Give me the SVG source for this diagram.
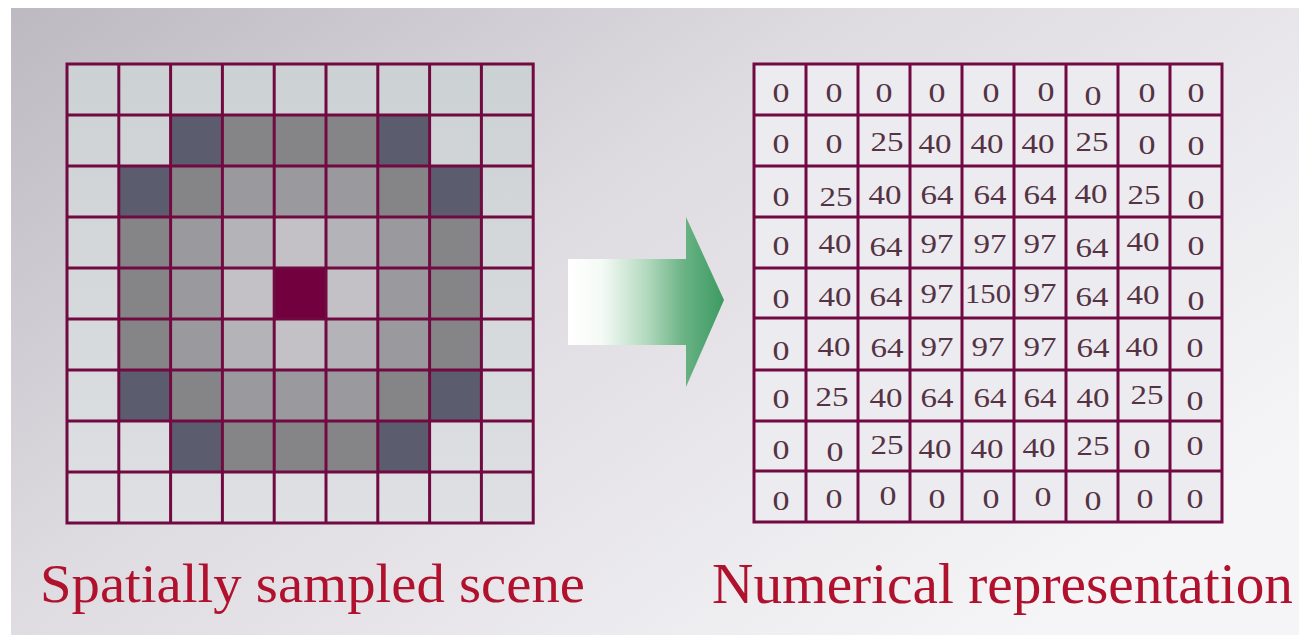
<svg xmlns="http://www.w3.org/2000/svg" width="1299" height="635" viewBox="0 0 1299 635">
<defs>
<linearGradient id="bg" x1="0" y1="0" x2="1" y2="0.7">
<stop offset="0" stop-color="#bdb9c1"/>
<stop offset="0.45" stop-color="#dedbe1"/>
<stop offset="1" stop-color="#f5f5f7"/>
</linearGradient>
<linearGradient id="lightcells" x1="0" y1="0" x2="0" y2="1">
<stop offset="0" stop-color="#ccd1d3"/>
<stop offset="1" stop-color="#dee0e3"/>
</linearGradient>
<linearGradient id="arrowg" gradientUnits="userSpaceOnUse" x1="568" y1="0" x2="724" y2="0">
<stop offset="0" stop-color="#ffffff"/>
<stop offset="0.22" stop-color="#f4faf5"/>
<stop offset="0.5" stop-color="#b4dabf"/>
<stop offset="0.75" stop-color="#68b283"/>
<stop offset="1" stop-color="#3d9a62"/>
</linearGradient>
<style>
.grid{fill:none;stroke:#720a42;stroke-width:3;stroke-linecap:square}
.D{fill:#5b5d6f}.G{fill:#858587}.M{fill:#9a999e}.A{fill:#b4b3b8}.B{fill:#c3c1c6}.X{fill:#72003e}
.n{font-size:28px;fill:#553344;text-anchor:middle}
.t{fill:#b0122e}
</style>
</defs>
<rect x="11" y="8" width="1288" height="627" fill="url(#bg)"/>

<g id="spatial-grid">
<rect x="67" y="64" width="466" height="459" fill="url(#lightcells)"/>
<rect class="D" x="170.6" y="115" width="51.8" height="51"/>
<rect class="G" x="222.4" y="115" width="51.8" height="51"/>
<rect class="G" x="274.2" y="115" width="51.8" height="51"/>
<rect class="G" x="326" y="115" width="51.8" height="51"/>
<rect class="D" x="377.8" y="115" width="51.8" height="51"/>
<rect class="D" x="118.8" y="166" width="51.8" height="51"/>
<rect class="G" x="170.6" y="166" width="51.8" height="51"/>
<rect class="M" x="222.4" y="166" width="51.8" height="51"/>
<rect class="M" x="274.2" y="166" width="51.8" height="51"/>
<rect class="M" x="326" y="166" width="51.8" height="51"/>
<rect class="G" x="377.8" y="166" width="51.8" height="51"/>
<rect class="D" x="429.6" y="166" width="51.8" height="51"/>
<rect class="G" x="118.8" y="217" width="51.8" height="51"/>
<rect class="M" x="170.6" y="217" width="51.8" height="51"/>
<rect class="A" x="222.4" y="217" width="51.8" height="51"/>
<rect class="B" x="274.2" y="217" width="51.8" height="51"/>
<rect class="A" x="326" y="217" width="51.8" height="51"/>
<rect class="M" x="377.8" y="217" width="51.8" height="51"/>
<rect class="G" x="429.6" y="217" width="51.8" height="51"/>
<rect class="G" x="118.8" y="268" width="51.8" height="51"/>
<rect class="M" x="170.6" y="268" width="51.8" height="51"/>
<rect class="B" x="222.4" y="268" width="51.8" height="51"/>
<rect class="X" x="274.2" y="268" width="51.8" height="51"/>
<rect class="B" x="326" y="268" width="51.8" height="51"/>
<rect class="M" x="377.8" y="268" width="51.8" height="51"/>
<rect class="G" x="429.6" y="268" width="51.8" height="51"/>
<rect class="G" x="118.8" y="319" width="51.8" height="51"/>
<rect class="M" x="170.6" y="319" width="51.8" height="51"/>
<rect class="A" x="222.4" y="319" width="51.8" height="51"/>
<rect class="B" x="274.2" y="319" width="51.8" height="51"/>
<rect class="A" x="326" y="319" width="51.8" height="51"/>
<rect class="M" x="377.8" y="319" width="51.8" height="51"/>
<rect class="G" x="429.6" y="319" width="51.8" height="51"/>
<rect class="D" x="118.8" y="370" width="51.8" height="51"/>
<rect class="G" x="170.6" y="370" width="51.8" height="51"/>
<rect class="M" x="222.4" y="370" width="51.8" height="51"/>
<rect class="M" x="274.2" y="370" width="51.8" height="51"/>
<rect class="M" x="326" y="370" width="51.8" height="51"/>
<rect class="G" x="377.8" y="370" width="51.8" height="51"/>
<rect class="D" x="429.6" y="370" width="51.8" height="51"/>
<rect class="D" x="170.6" y="421" width="51.8" height="51"/>
<rect class="G" x="222.4" y="421" width="51.8" height="51"/>
<rect class="G" x="274.2" y="421" width="51.8" height="51"/>
<rect class="G" x="326" y="421" width="51.8" height="51"/>
<rect class="D" x="377.8" y="421" width="51.8" height="51"/>
<path class="grid" d="M67,64H533.2V523H67Z M118.8,64V523 M170.6,64V523 M222.4,64V523 M274.2,64V523 M326,64V523 M377.8,64V523 M429.6,64V523 M481.4,64V523 M67,115H533.2 M67,166H533.2 M67,217H533.2 M67,268H533.2 M67,319H533.2 M67,370H533.2 M67,421H533.2 M67,472H533.2"/>
</g>

<g id="connectors">
<path d="M568,259H686V217L724,300L686,387V345H568Z" fill="url(#arrowg)"/>
</g>

<g id="numeric-grid">
<rect x="754" y="64" width="468" height="458" fill="#ecebf0"/>
<path class="grid" d="M754,64H1222V522H754Z M806,64V522 M858,64V522 M910,64V522 M962,64V522 M1014,64V522 M1066,64V522 M1118,64V522 M1170,64V522 M754,115H1222 M754,166H1222 M754,217H1222 M754,268H1222 M754,318H1222 M754,370H1222 M754,421H1222 M754,471H1222"/>
<g font-family="Liberation Serif, Times New Roman, DejaVu Serif, serif" lengthAdjust="spacingAndGlyphs">
<text class="n" x="781" y="102" textLength="17" lengthAdjust="spacingAndGlyphs">0</text>
<text class="n" x="834" y="102" textLength="17" lengthAdjust="spacingAndGlyphs">0</text>
<text class="n" x="884" y="102" textLength="17" lengthAdjust="spacingAndGlyphs">0</text>
<text class="n" x="937" y="102" textLength="17" lengthAdjust="spacingAndGlyphs">0</text>
<text class="n" x="991" y="102" textLength="17" lengthAdjust="spacingAndGlyphs">0</text>
<text class="n" x="1046" y="101" textLength="17" lengthAdjust="spacingAndGlyphs">0</text>
<text class="n" x="1093" y="105" textLength="17" lengthAdjust="spacingAndGlyphs">0</text>
<text class="n" x="1147" y="102" textLength="17" lengthAdjust="spacingAndGlyphs">0</text>
<text class="n" x="1196" y="102" textLength="17" lengthAdjust="spacingAndGlyphs">0</text>
<text class="n" x="781" y="153" textLength="17" lengthAdjust="spacingAndGlyphs">0</text>
<text class="n" x="834" y="153" textLength="17" lengthAdjust="spacingAndGlyphs">0</text>
<text class="n" x="887" y="151" textLength="33" lengthAdjust="spacingAndGlyphs">25</text>
<text class="n" x="935" y="153" textLength="33" lengthAdjust="spacingAndGlyphs">40</text>
<text class="n" x="987" y="153" textLength="33" lengthAdjust="spacingAndGlyphs">40</text>
<text class="n" x="1038" y="153" textLength="33" lengthAdjust="spacingAndGlyphs">40</text>
<text class="n" x="1092" y="151" textLength="33" lengthAdjust="spacingAndGlyphs">25</text>
<text class="n" x="1147" y="154" textLength="17" lengthAdjust="spacingAndGlyphs">0</text>
<text class="n" x="1196" y="155" textLength="17" lengthAdjust="spacingAndGlyphs">0</text>
<text class="n" x="781" y="206" textLength="17" lengthAdjust="spacingAndGlyphs">0</text>
<text class="n" x="836" y="206" textLength="33" lengthAdjust="spacingAndGlyphs">25</text>
<text class="n" x="885" y="204" textLength="33" lengthAdjust="spacingAndGlyphs">40</text>
<text class="n" x="937" y="204" textLength="33" lengthAdjust="spacingAndGlyphs">64</text>
<text class="n" x="990" y="204" textLength="33" lengthAdjust="spacingAndGlyphs">64</text>
<text class="n" x="1040" y="204" textLength="33" lengthAdjust="spacingAndGlyphs">64</text>
<text class="n" x="1091" y="203" textLength="33" lengthAdjust="spacingAndGlyphs">40</text>
<text class="n" x="1144" y="204" textLength="33" lengthAdjust="spacingAndGlyphs">25</text>
<text class="n" x="1196" y="209" textLength="17" lengthAdjust="spacingAndGlyphs">0</text>
<text class="n" x="781" y="255" textLength="17" lengthAdjust="spacingAndGlyphs">0</text>
<text class="n" x="835" y="253" textLength="33" lengthAdjust="spacingAndGlyphs">40</text>
<text class="n" x="886" y="256" textLength="33" lengthAdjust="spacingAndGlyphs">64</text>
<text class="n" x="937" y="253" textLength="33" lengthAdjust="spacingAndGlyphs">97</text>
<text class="n" x="990" y="253" textLength="33" lengthAdjust="spacingAndGlyphs">97</text>
<text class="n" x="1040" y="253" textLength="33" lengthAdjust="spacingAndGlyphs">97</text>
<text class="n" x="1092" y="257" textLength="33" lengthAdjust="spacingAndGlyphs">64</text>
<text class="n" x="1143" y="251" textLength="33" lengthAdjust="spacingAndGlyphs">40</text>
<text class="n" x="1196" y="255" textLength="17" lengthAdjust="spacingAndGlyphs">0</text>
<text class="n" x="781" y="308" textLength="17" lengthAdjust="spacingAndGlyphs">0</text>
<text class="n" x="835" y="306" textLength="33" lengthAdjust="spacingAndGlyphs">40</text>
<text class="n" x="886" y="306" textLength="33" lengthAdjust="spacingAndGlyphs">64</text>
<text class="n" x="937" y="303" textLength="33" lengthAdjust="spacingAndGlyphs">97</text>
<text class="n" x="988" y="303" textLength="46" lengthAdjust="spacingAndGlyphs">150</text>
<text class="n" x="1040" y="302" textLength="33" lengthAdjust="spacingAndGlyphs">97</text>
<text class="n" x="1092" y="306" textLength="33" lengthAdjust="spacingAndGlyphs">64</text>
<text class="n" x="1143" y="304" textLength="33" lengthAdjust="spacingAndGlyphs">40</text>
<text class="n" x="1196" y="310" textLength="17" lengthAdjust="spacingAndGlyphs">0</text>
<text class="n" x="781" y="360" textLength="17" lengthAdjust="spacingAndGlyphs">0</text>
<text class="n" x="834" y="356" textLength="33" lengthAdjust="spacingAndGlyphs">40</text>
<text class="n" x="887" y="357" textLength="33" lengthAdjust="spacingAndGlyphs">64</text>
<text class="n" x="937" y="356" textLength="33" lengthAdjust="spacingAndGlyphs">97</text>
<text class="n" x="988" y="356" textLength="33" lengthAdjust="spacingAndGlyphs">97</text>
<text class="n" x="1040" y="356" textLength="33" lengthAdjust="spacingAndGlyphs">97</text>
<text class="n" x="1093" y="357" textLength="33" lengthAdjust="spacingAndGlyphs">64</text>
<text class="n" x="1142" y="356" textLength="33" lengthAdjust="spacingAndGlyphs">40</text>
<text class="n" x="1195" y="357" textLength="17" lengthAdjust="spacingAndGlyphs">0</text>
<text class="n" x="781" y="408" textLength="17" lengthAdjust="spacingAndGlyphs">0</text>
<text class="n" x="832" y="406" textLength="33" lengthAdjust="spacingAndGlyphs">25</text>
<text class="n" x="886" y="407" textLength="33" lengthAdjust="spacingAndGlyphs">40</text>
<text class="n" x="937" y="407" textLength="33" lengthAdjust="spacingAndGlyphs">64</text>
<text class="n" x="990" y="407" textLength="33" lengthAdjust="spacingAndGlyphs">64</text>
<text class="n" x="1040" y="407" textLength="33" lengthAdjust="spacingAndGlyphs">64</text>
<text class="n" x="1093" y="407" textLength="33" lengthAdjust="spacingAndGlyphs">40</text>
<text class="n" x="1147" y="404" textLength="33" lengthAdjust="spacingAndGlyphs">25</text>
<text class="n" x="1195" y="410" textLength="17" lengthAdjust="spacingAndGlyphs">0</text>
<text class="n" x="781" y="459" textLength="17" lengthAdjust="spacingAndGlyphs">0</text>
<text class="n" x="835" y="461" textLength="17" lengthAdjust="spacingAndGlyphs">0</text>
<text class="n" x="887" y="454" textLength="33" lengthAdjust="spacingAndGlyphs">25</text>
<text class="n" x="935" y="458" textLength="33" lengthAdjust="spacingAndGlyphs">40</text>
<text class="n" x="987" y="458" textLength="33" lengthAdjust="spacingAndGlyphs">40</text>
<text class="n" x="1039" y="457" textLength="33" lengthAdjust="spacingAndGlyphs">40</text>
<text class="n" x="1093" y="455" textLength="33" lengthAdjust="spacingAndGlyphs">25</text>
<text class="n" x="1142" y="458" textLength="17" lengthAdjust="spacingAndGlyphs">0</text>
<text class="n" x="1195" y="455" textLength="17" lengthAdjust="spacingAndGlyphs">0</text>
<text class="n" x="781" y="510" textLength="17" lengthAdjust="spacingAndGlyphs">0</text>
<text class="n" x="834" y="508" textLength="17" lengthAdjust="spacingAndGlyphs">0</text>
<text class="n" x="888" y="505" textLength="17" lengthAdjust="spacingAndGlyphs">0</text>
<text class="n" x="937" y="508" textLength="17" lengthAdjust="spacingAndGlyphs">0</text>
<text class="n" x="991" y="508" textLength="17" lengthAdjust="spacingAndGlyphs">0</text>
<text class="n" x="1043" y="506" textLength="17" lengthAdjust="spacingAndGlyphs">0</text>
<text class="n" x="1093" y="510" textLength="17" lengthAdjust="spacingAndGlyphs">0</text>
<text class="n" x="1145" y="508" textLength="17" lengthAdjust="spacingAndGlyphs">0</text>
<text class="n" x="1195" y="508" textLength="17" lengthAdjust="spacingAndGlyphs">0</text>
</g>
</g>

<g id="label-left">
<text class="t" x="40" y="602" font-family="Liberation Serif, Times New Roman, DejaVu Serif, serif" font-size="55" textLength="545" lengthAdjust="spacingAndGlyphs">Spatially sampled scene</text>
</g>
<g id="label-right">
<text class="t" x="712" y="603" font-family="Liberation Serif, Times New Roman, DejaVu Serif, serif" font-size="56" textLength="581" lengthAdjust="spacingAndGlyphs">Numerical representation</text>
</g>
</svg>
